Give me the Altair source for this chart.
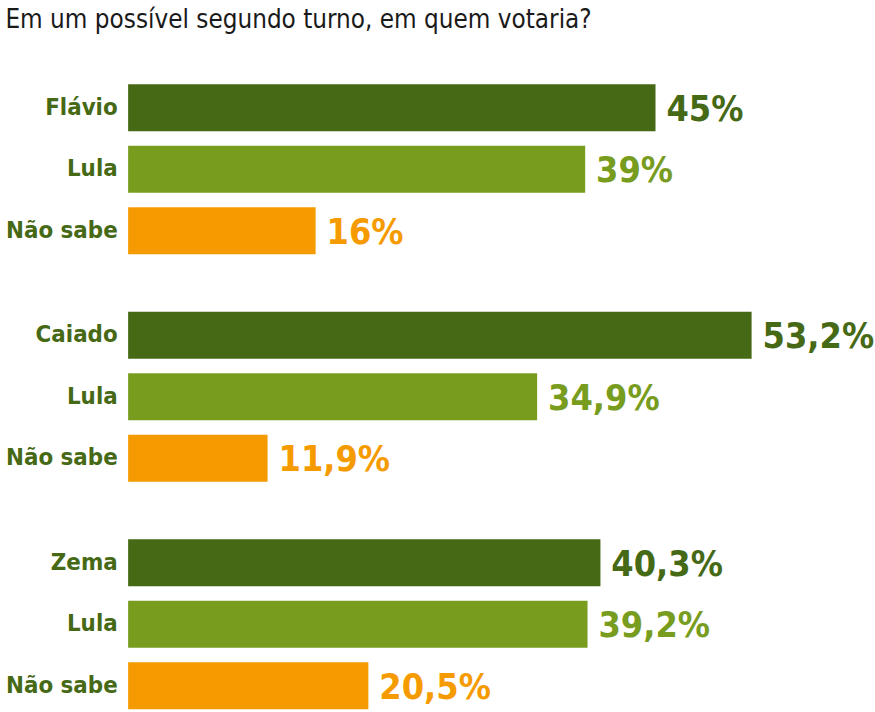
import altair as alt
import pandas as pd

title_text = "Em um possível segundo turno, em quem votaria?"
candidates = ["Flávio", "Caiado", "Zema"]
cand_values = [45, 53.2, 40.3]
lula_values = [39, 34.9, 39.2]
nao_sabe_values = [16, 11.9, 20.5]
roles = ["cand", "lula", "ns"]
colors = ["#466915", "#789c1e", "#f59b00"]

FONT = "DejaVu Sans Condensed, sans-serif"


def fmt(v):
    return f"{v:g}".replace(".", ",") + "%"


panels = []
for i, c in enumerate(candidates):
    df = pd.DataFrame({
        "label": [c, "Lula", "Não sabe"],
        "value": [cand_values[i], lula_values[i], nao_sabe_values[i]],
        "role": roles,
    })
    df["text"] = df["value"].map(fmt)
    base = alt.Chart(df).encode(
        y=alt.Y(
            "label:N",
            sort=None,
            scale=alt.Scale(paddingInner=0.235, paddingOuter=0.12),
            axis=alt.Axis(
                title=None, ticks=False, domain=False, grid=False,
                labelFont=FONT, labelFontSize=24, labelFontWeight="bold",
                labelColor="#466915", labelPadding=11,
                minExtent=121, maxExtent=121,
            ),
        ),
        x=alt.X("value:Q", scale=alt.Scale(domain=[0, 60]), axis=None),
        color=alt.Color("role:N", scale=alt.Scale(domain=roles, range=colors), legend=None),
    )
    bars = base.mark_bar()
    labels = base.mark_text(
        align="left", baseline="middle", dx=11, dy=2,
        fontSize=36, fontWeight="bold", font=FONT,
    ).encode(text="text:N")
    panels.append((bars + labels).properties(width=708, height=186))

chart = (
    alt.vconcat(*panels, spacing=43)
    .properties(
        title=alt.TitleParams(
            text=title_text, anchor="start", frame="bounds",
            font=FONT, fontSize=26, fontWeight="normal", color="#1a1a1a",
            offset=44,
        ),
        padding={"left": 5, "top": 5, "right": 0, "bottom": 0},
    )
    .configure_view(strokeWidth=0)
)

chart.save("out.html", embed_options={"renderer": "svg", "actions": False})
